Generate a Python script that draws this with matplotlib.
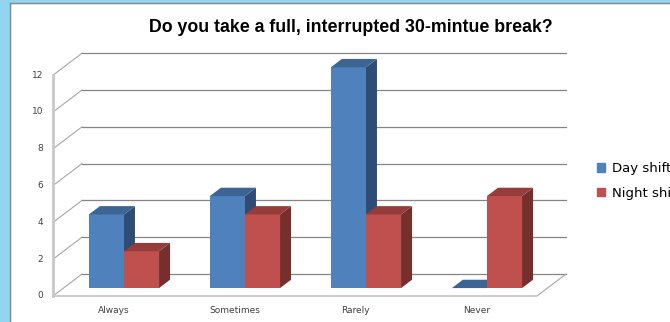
import matplotlib.pyplot as plt
from matplotlib.patches import Polygon, Rectangle, Patch
from matplotlib.lines import Line2D

categories = ["Always", "Sometimes", "Rarely", "Never"]
day_shift = [4, 5, 12, 0]
night_shift = [2, 4, 4, 5]
y_ticks = [0, 2, 4, 6, 8, 10, 12]
series = [("Day shift", day_shift), ("Night shift", night_shift)]

# face colours: front, top, side
day_cols = ("#4f81bd", "#3d6594", "#2f4d74")
night_cols = ("#c0504d", "#943d3a", "#772f2d")

# layout in pixels (oblique 3d look like Excel)
W, H = 670, 322
x0px, cat_px = 53, 121.0
y0px, unit_px = 296, 18.4
DX, DY = 29 / cat_px, 22 / unit_px
d0, d1 = 0.36, 0.74
bw = 0.29


def P(x, y, d):
    return (x + d * DX, y + d * DY)


fig = plt.figure(figsize=(W / 100, H / 100), dpi=100)
fig.patch.set_facecolor("white")
ax = fig.add_axes([0, 0, 1, 1])
ax.set_xlim(-x0px / cat_px, (W - x0px) / cat_px)
ax.set_ylim(-(H - y0px) / unit_px, y0px / unit_px)
ax.axis("off")

# slide background strips
fig.patches.append(Rectangle((0, 0), 10 / W, 1, transform=fig.transFigure,
                             color="#93d4ef", zorder=0))
fig.patches.append(Rectangle((0, 1 - 3 / H), 1, 3 / H, transform=fig.transFigure,
                             color="#93d4ef", zorder=0))
fig.lines.append(Line2D([10 / W, 10 / W], [0, 1 - 3 / H], transform=fig.transFigure,
                        color="#8a8a8a", lw=1))
fig.lines.append(Line2D([10 / W, 1], [1 - 3 / H, 1 - 3 / H], transform=fig.transFigure,
                        color="#8a8a8a", lw=1))

n = len(categories)

# walls / gridlines
for v in y_ticks:
    a, b, c = P(0, v, 0), P(0, v, 1), P(n, v, 1)
    ax.plot([a[0], b[0]], [a[1], b[1]], color="#a6a6a6", lw=0.8)
    ax.plot([b[0], c[0]], [b[1], c[1]], color="#858585", lw=0.9)
    ax.text(a[0] - 0.083, a[1], str(v), ha="right", va="center",
            fontsize=6.5, color="#404040")

f1, f2, f3 = P(0, 0, 0), P(n, 0, 0), P(n, 0, 1)
ax.plot([f1[0], f2[0], f3[0]], [f1[1], f2[1], f3[1]], color="#a6a6a6", lw=0.8)
top = P(0, max(y_ticks), 0)
ax.plot([f1[0], top[0]], [f1[1], top[1]], color="#c8c8c8", lw=2)

# bars
for i in range(n):
    for k, (name, vals) in enumerate(series):
        cols = day_cols if k == 0 else night_cols
        x = i + 0.5 - bw + k * bw
        h = vals[i]
        front = [P(x, 0, d0), P(x + bw, 0, d0), P(x + bw, h, d0), P(x, h, d0)]
        topf = [P(x, h, d0), P(x + bw, h, d0), P(x + bw, h, d1), P(x, h, d1)]
        side = [P(x + bw, 0, d0), P(x + bw, 0, d1), P(x + bw, h, d1), P(x + bw, h, d0)]
        if h > 0:
            ax.add_patch(Polygon(side, closed=True, fc=cols[2], ec="none", zorder=3))
            ax.add_patch(Polygon(front, closed=True, fc=cols[0], ec="none", zorder=3))
        ax.add_patch(Polygon(topf, closed=True, fc=cols[1], ec="none", zorder=3))
    ax.text(i + 0.5, -0.78, categories[i], ha="center", va="center",
            fontsize=6.5, color="#404040")

ax.text((351 - x0px) / cat_px, (y0px - 27) / unit_px,
        "Do you take a full, interrupted 30-mintue break?",
        ha="center", va="center", fontsize=12.8, fontweight="bold",
        family=["Liberation Sans", "DejaVu Sans"], color="black")

handles = [Patch(color=day_cols[0], label="Day shift"),
           Patch(color=night_cols[0], label="Night shift")]
ax.legend(handles=handles, loc="center left", bbox_to_anchor=(597 / W, 1 - 181 / H),
          bbox_transform=fig.transFigure, frameon=False, fontsize=9.5,
          handlelength=0.6, handleheight=0.6, handletextpad=0.5,
          labelspacing=0.9, borderpad=0, borderaxespad=0)

fig.savefig("out.png", dpi=100)
